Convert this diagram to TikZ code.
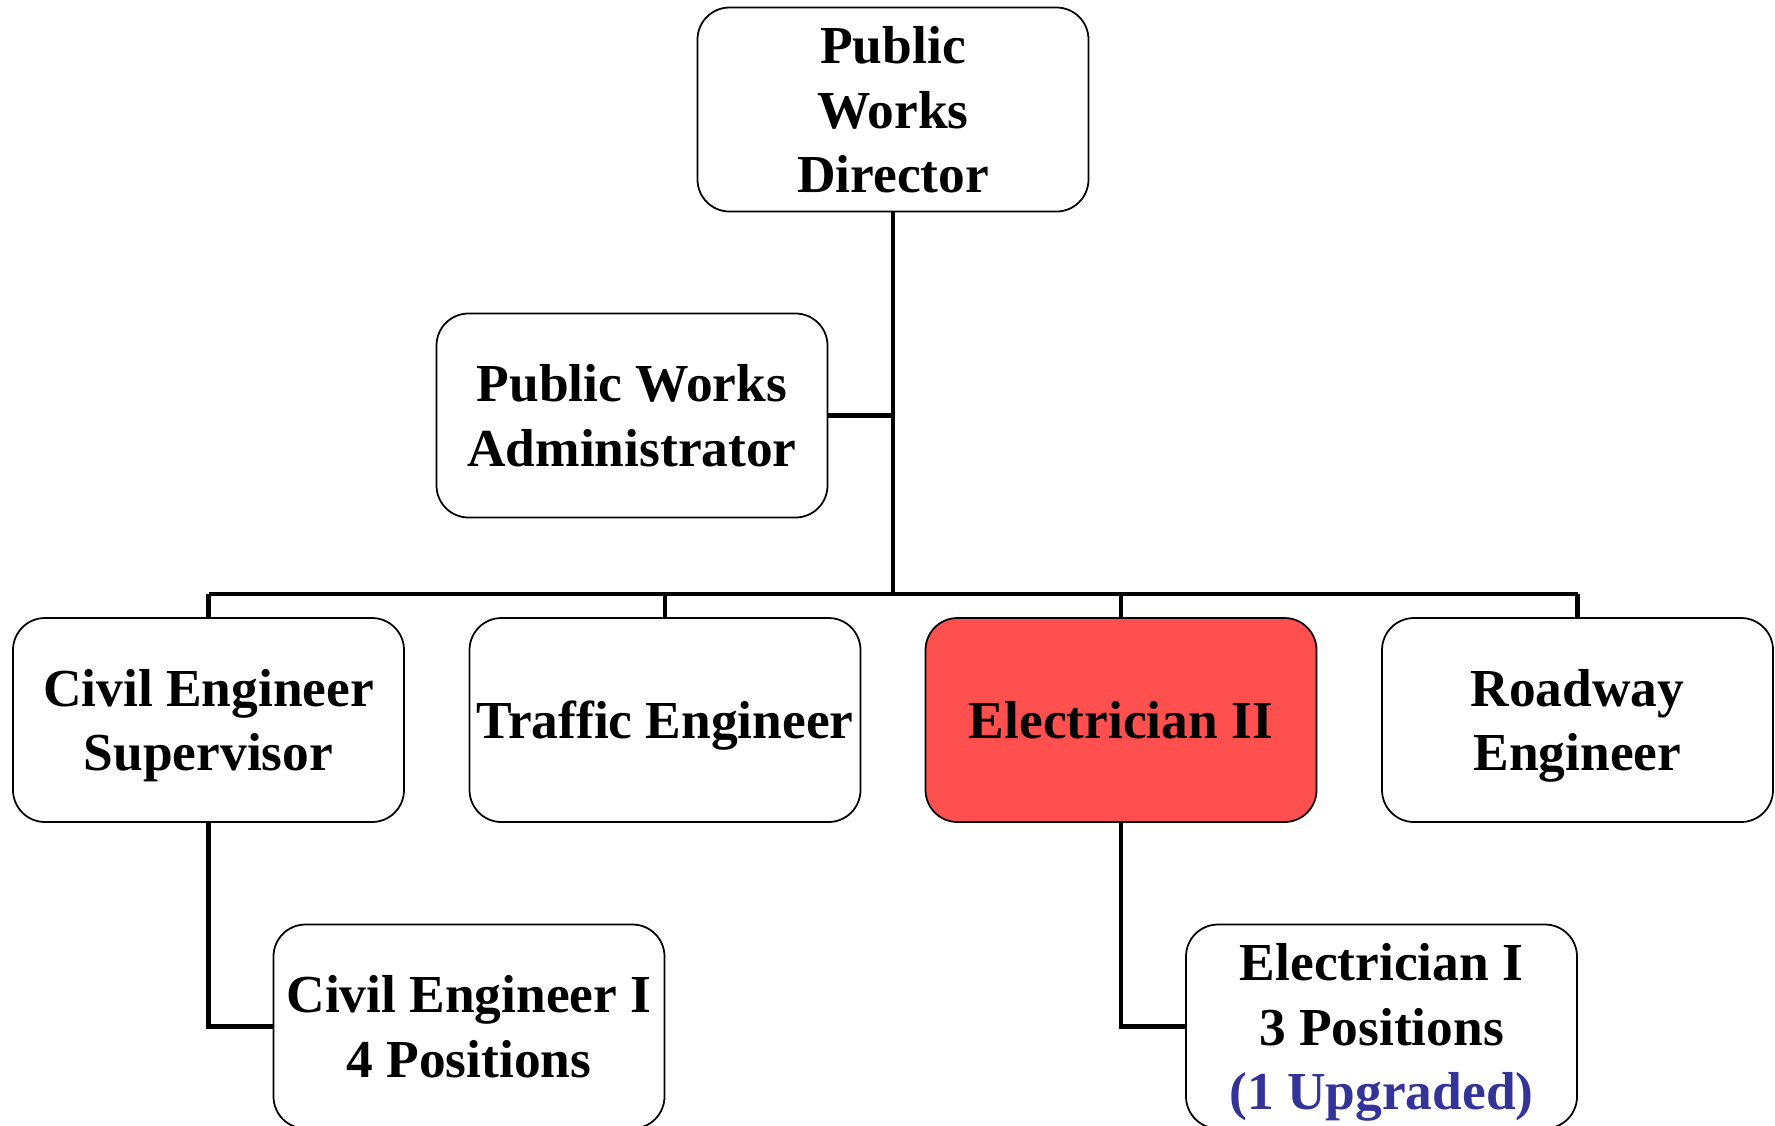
\documentclass[tikz,border=0pt]{standalone}
\usepackage{fontspec}
\setmainfont{Liberation Serif}
\definecolor{boxred}{HTML}{FF5050}
\definecolor{upgblue}{HTML}{333399}
\begin{document}
\begin{tikzpicture}
[boxdecorate/.style={shape=rectangle,rounded corners=0.32cm,draw,line width=0.5pt,
   minimum width=3.91cm,minimum height=2.04cm,align=center,inner sep=1pt,text depth=0pt,
   font=\fontsize{15.2}{18.3}\selectfont\bfseries},%
  linedecorate/.style={-,line width=1.4pt}]
\useasboundingbox (0,0) rectangle (17.75,-11.25);
%% boxes of the chart
\foreach \nodename/\x/\y/\fillcol/\txt in {
  dir/8.93/-1.095/white/{Public\\Works\\Director},
  admin/6.32/-4.155/white/{Public Works\\Administrator},
  ces/2.085/-7.2/white/{Civil Engineer\\Supervisor},
  traffic/6.65/-7.2/white/{Traffic Engineer},
  elec2/11.21/-7.2/boxred/{Electrician II},
  road/15.775/-7.2/white/{Roadway\\Engineer},
  ce1/4.69/-10.265/white/{Civil Engineer I\\4 Positions},
  elec1/13.815/-10.265/white/{Electrician I\\3 Positions\\\textcolor{upgblue}{(1 Upgraded)}}} {
  \node (\nodename) at (\x,\y) [boxdecorate,fill=\fillcol] {\txt};
}
%% the bus that feeds the second row
\coordinate (bus) at (8.93,-5.94);
%% lines
\draw[linedecorate] (dir.south) -- (bus);
\draw[linedecorate] (admin.east) -- (admin.east -| dir.south);
\draw[linedecorate] (bus -| ces.north) -- (bus -| road.north);
\foreach \endnode in {ces, traffic, elec2, road} {
  \draw[linedecorate] (bus -| \endnode.north) -- (\endnode.north);
}
\draw[linedecorate] (ces.south) |- (ce1.west);
\draw[linedecorate] (elec2.south) |- (elec1.west);
\end{tikzpicture}
\end{document}
